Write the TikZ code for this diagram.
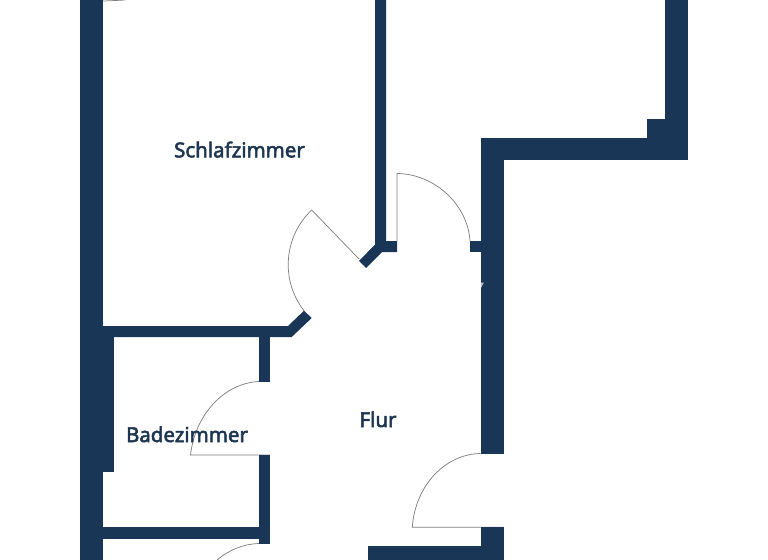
\documentclass[tikz,border=0pt]{standalone}
\usepackage{fontspec}
\setmainfont{Noto Sans}
\newfontfamily\labelfont[FakeBold=2.5]{Noto Sans}
\definecolor{wall}{HTML}{1A3657}
\definecolor{labelink}{HTML}{1C3550}
\tikzset{
  wallfill/.style={fill=wall,draw=none},
  swing/.style={draw=black!50,line width=0.55pt},
  roomlabel/.style={text=labelink,font=\labelfont\fontsize{15.35pt}{18pt}\selectfont,inner sep=0pt,anchor=base}
}
\begin{document}
\begin{tikzpicture}[x=0.75pt,y=-0.75pt]
\useasboundingbox (0,0) rectangle (768,560);
\fill[white] (0,0) rectangle (768,560);
% door swings
\draw[swing] (103,1) .. controls (110,0.8) and (118,0.4) .. (125,0);
\draw[swing] (397,241) -- (397,173.5) .. controls (436,174) and (468,206) .. (470,241);
\draw[swing] (359,259) -- (311.7,210) .. controls (284,236) and (280,280) .. (304,310.7);
\draw[swing] (259,381.5) .. controls (224,383) and (195,415) .. (190.5,455) -- (270,455);
\draw[swing] (259,543.5) .. controls (243,544) and (229,550) .. (217,560);
\draw[swing] (480.5,453.5) .. controls (445,454) and (415,486) .. (412.3,527.3) -- (503.5,527.3);
% walls
\fill[wallfill] (80,0) rectangle (103,560);
\fill[wallfill] (103,337) rectangle (114,472);
\fill[wallfill] (375,0) -- (386,0) -- (386,241) -- (397,241) -- (397,252) -- (382,252) -- (366,268) -- (359,261) -- (375,244.5) -- cycle;
\fill[wallfill] (103,326) -- (288,326) -- (304,310.7) -- (311.7,318) -- (291.7,337) -- (103,337) -- cycle;
\fill[wallfill] (259,337) rectangle (270,381.5);
\fill[wallfill] (259,455) rectangle (270,543.5);
\fill[wallfill] (103,527.4) rectangle (259,538.8);
\fill[wallfill] (470,241) rectangle (481,252);
\fill[wallfill] (480.7,138) rectangle (503.5,453.5);
\fill[wallfill] (480.7,138) rectangle (687.7,160);
\fill[wallfill] (665,0) rectangle (687.7,160);
\fill[wallfill] (646.5,119) rectangle (665,138);
\fill[wallfill] (480.7,527.3) rectangle (503.5,560);
\fill[wallfill] (368,545.7) rectangle (481,560);
\fill[black!25] (480.7,282.5) -- (484,282.5) -- (481.2,287.5) -- cycle;
% labels
\node[roomlabel] (schlaf) at (239.5,157.3) {Schlafzimmer};
\node[roomlabel] (bad) at (187,442) {Badezimmer};
\node[roomlabel] (flur) at (378,427) {Flur};
\end{tikzpicture}
\end{document}
